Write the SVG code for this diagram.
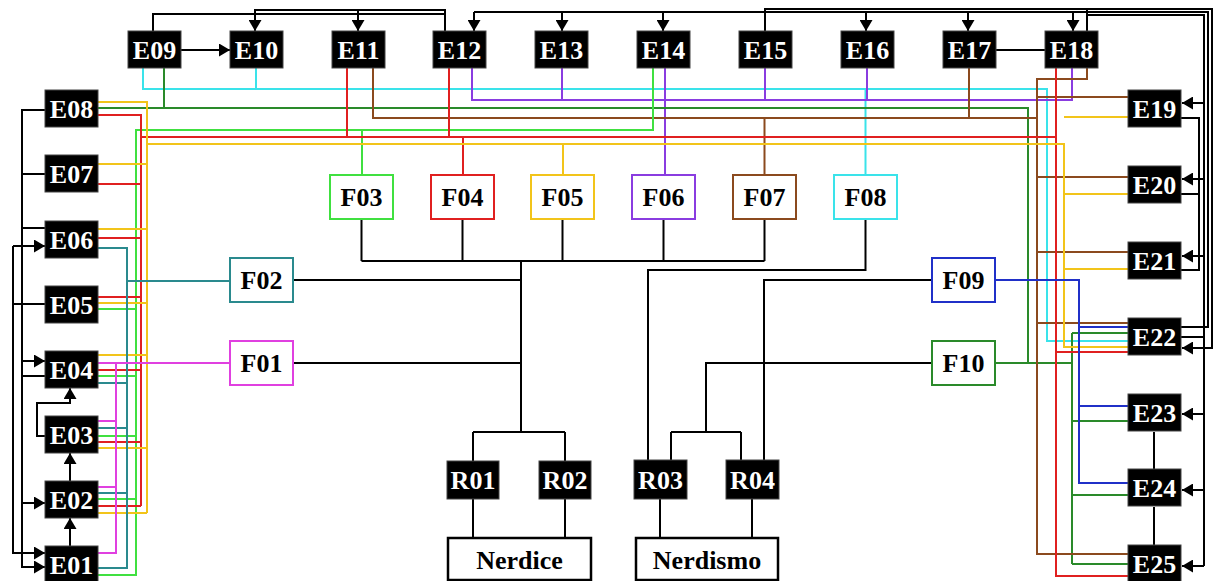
<svg xmlns="http://www.w3.org/2000/svg" width="1214" height="581" viewBox="0 0 1214 581">
<style>
.eb{fill:#000;stroke:#444;stroke-width:1}
.et{fill:#fff;font-family:"Liberation Serif","Times New Roman",serif;font-weight:bold;font-size:26px;text-anchor:middle}
.ft{fill:#000;font-family:"Liberation Serif","Times New Roman",serif;font-weight:bold;font-size:26px;text-anchor:middle}
.fb{fill:#fff;stroke-width:2}
.k{fill:none;stroke:#000;stroke-width:2}
.c{fill:none;stroke-width:2}
</style>
<defs>
<marker id="ar" markerUnits="userSpaceOnUse" markerWidth="11" markerHeight="13" refX="11" refY="6.5" orient="auto"><path d="M0,0 L11,6.5 L0,13 z" fill="#000"/></marker>
</defs>
<g id="connectors">
<path class="c" stroke="#3ae3ea" d="M143,68V89H1047V341H1128M256,68V89M865.5,89V175"/>
<path class="c" stroke="#8a3ce0" d="M472,68V100H1072V68M562,68V100M665,68V175M765,68V100M867,68V100"/>
<path class="c" stroke="#2a8a2a" d="M97,108H1028V363M164,68V108M995,363H1072M1072,333V564M1072,333H1128M1072,421H1128M1072,495H1128M1072,564H1128"/>
<path class="c" stroke="#8b4a1e" d="M373,68V118H1037M969,68V118M764.5,118V175M1087,68V79H1037V554H1128M1037,97H1128M1037,177H1128M1037,252H1128M1037,323H1128"/>
<path class="c" stroke="#40e040" d="M97,575H136V130H653V68M362,130V175M97,309H136M97,376H136M97,436H136M97,499H136"/>
<path class="c" stroke="#e02020" d="M97,115H141V506M141,137H1056M347,68V137M449,68V137M463,137V175M1056,68V576H1128M1056,352H1128M97,184H141M97,238H141M97,297H141M97,370H141M97,442H141M97,506H141"/>
<path class="c" stroke="#f2c41a" d="M97,102H147V513M147,144H1064V347H1128M563,144V175M1064,117H1128M1064,194H1128M1064,269H1128M97,164H147M97,229H147M97,303H147M97,355H147M97,448H147M97,513H147"/>
<path class="c" stroke="#2a8a8e" d="M97,248H127V568H97M127,281H230M97,383H127M97,428H127M97,493H127"/>
<path class="c" stroke="#e040e0" d="M97,363H230M116,363V553H97M97,421H116M97,487H116"/>
<path class="c" stroke="#2030c8" d="M995,280H1079V483H1128M1079,327H1128M1079,406H1128"/>
<path class="k" d="M361.5,219V261M462.5,219V261M562.5,219V261M663.5,219V261M764.5,219V261M361.5,261H764.5M521,261V432M293,280H521M293,363H521M473,432H565M473,432V461M565,432V461"/>
<path class="k" d="M865.5,219V270H648V460M932,280H764V460M932,363H706V432M671,432H741M671,432V460M741,432V460"/>
<path class="k" d="M473,499V538M565,499V538M660,499V538M752,499V538"/>
<path class="k" d="M996,50H1045M153,31V14H445M445,31V10H255V20M358,10V20M474,12H1208V327H1181M474,12V20M562,12V20M663,12V20M866,12V20M968,12V20M1073,12V20M765,31V9H1212V348H1193M1087,31V9M1087,15H1204V566M1204,103H1193M1204,179H1193M1204,256H1193M1204,414H1193M1204,490H1193M1204,566H1193M1181,337H1204M1181,118H1199V270H1181M1199,194H1181M1154,432V469M1154,507V545"/>
<path class="k" marker-end="url(#ar)" d="M180,50H230"/>
<path class="k" marker-end="url(#ar)" d="M255,19V31"/>
<path class="k" marker-end="url(#ar)" d="M358,19V31"/>
<path class="k" marker-end="url(#ar)" d="M474,19V31"/>
<path class="k" marker-end="url(#ar)" d="M562,19V31"/>
<path class="k" marker-end="url(#ar)" d="M663,19V31"/>
<path class="k" marker-end="url(#ar)" d="M866,19V31"/>
<path class="k" marker-end="url(#ar)" d="M968,19V31"/>
<path class="k" marker-end="url(#ar)" d="M1073,19V31"/>
<path class="k" marker-end="url(#ar)" d="M1194,103H1182"/>
<path class="k" marker-end="url(#ar)" d="M1194,179H1182"/>
<path class="k" marker-end="url(#ar)" d="M1194,256H1182"/>
<path class="k" marker-end="url(#ar)" d="M1194,348H1182"/>
<path class="k" marker-end="url(#ar)" d="M1194,414H1182"/>
<path class="k" marker-end="url(#ar)" d="M1194,490H1182"/>
<path class="k" marker-end="url(#ar)" d="M1194,566H1182"/>
<path class="k" d="M45,110H22V567H34M22,174H45M22,228H45M22,361H34M22,376H45M22,503H34M13,246H34M13,246V553H34M13,304H45M45,436H37V403H70V398M70,481V463M70,546V528"/>
<path class="k" marker-end="url(#ar)" d="M33,567H45"/>
<path class="k" marker-end="url(#ar)" d="M33,361H45"/>
<path class="k" marker-end="url(#ar)" d="M33,503H45"/>
<path class="k" marker-end="url(#ar)" d="M33,246H45"/>
<path class="k" marker-end="url(#ar)" d="M33,553H45"/>
<path class="k" marker-end="url(#ar)" d="M70,400V388"/>
<path class="k" marker-end="url(#ar)" d="M70,465V453"/>
<path class="k" marker-end="url(#ar)" d="M70,530V518"/>
</g>
<g id="E09"><rect class="eb" x="128" y="31" width="53" height="37"/><text class="et" x="154.5" y="58.5">E09</text></g>
<g id="E10"><rect class="eb" x="230" y="31" width="53" height="37"/><text class="et" x="256.5" y="58.5">E10</text></g>
<g id="E11"><rect class="eb" x="332" y="31" width="53" height="37"/><text class="et" x="358.5" y="58.5">E11</text></g>
<g id="E12"><rect class="eb" x="433" y="31" width="53" height="37"/><text class="et" x="459.5" y="58.5">E12</text></g>
<g id="E13"><rect class="eb" x="535" y="31" width="53" height="37"/><text class="et" x="561.5" y="58.5">E13</text></g>
<g id="E14"><rect class="eb" x="637" y="31" width="53" height="37"/><text class="et" x="663.5" y="58.5">E14</text></g>
<g id="E15"><rect class="eb" x="739" y="31" width="53" height="37"/><text class="et" x="765.5" y="58.5">E15</text></g>
<g id="E16"><rect class="eb" x="841" y="31" width="53" height="37"/><text class="et" x="867.5" y="58.5">E16</text></g>
<g id="E17"><rect class="eb" x="943" y="31" width="53" height="37"/><text class="et" x="969.5" y="58.5">E17</text></g>
<g id="E18"><rect class="eb" x="1045" y="31" width="53" height="37"/><text class="et" x="1071.5" y="58.5">E18</text></g>
<g id="E08"><rect class="eb" x="45" y="90" width="53" height="37"/><text class="et" x="71.5" y="117.5">E08</text></g>
<g id="E07"><rect class="eb" x="45" y="155" width="53" height="37"/><text class="et" x="71.5" y="182.5">E07</text></g>
<g id="E06"><rect class="eb" x="45" y="221" width="53" height="37"/><text class="et" x="71.5" y="248.5">E06</text></g>
<g id="E05"><rect class="eb" x="45" y="286" width="53" height="37"/><text class="et" x="71.5" y="313.5">E05</text></g>
<g id="E04"><rect class="eb" x="45" y="351" width="53" height="37"/><text class="et" x="71.5" y="378.5">E04</text></g>
<g id="E03"><rect class="eb" x="45" y="416" width="53" height="37"/><text class="et" x="71.5" y="443.5">E03</text></g>
<g id="E02"><rect class="eb" x="45" y="481" width="53" height="37"/><text class="et" x="71.5" y="508.5">E02</text></g>
<g id="E01"><rect class="eb" x="45" y="546" width="53" height="37"/><text class="et" x="71.5" y="573.5">E01</text></g>
<g id="E19"><rect class="eb" x="1128" y="90" width="53" height="37"/><text class="et" x="1154.5" y="117.5">E19</text></g>
<g id="E20"><rect class="eb" x="1128" y="166" width="53" height="37"/><text class="et" x="1154.5" y="193.5">E20</text></g>
<g id="E21"><rect class="eb" x="1128" y="242" width="53" height="37"/><text class="et" x="1154.5" y="269.5">E21</text></g>
<g id="E22"><rect class="eb" x="1128" y="318" width="53" height="37"/><text class="et" x="1154.5" y="345.5">E22</text></g>
<g id="E23"><rect class="eb" x="1128" y="394" width="53" height="37"/><text class="et" x="1154.5" y="421.5">E23</text></g>
<g id="E24"><rect class="eb" x="1128" y="469" width="53" height="37"/><text class="et" x="1154.5" y="496.5">E24</text></g>
<g id="E25"><rect class="eb" x="1128" y="545" width="53" height="37"/><text class="et" x="1154.5" y="572.5">E25</text></g>
<g id="F03"><rect class="fb" stroke="#40e040" x="330" y="175" width="63" height="44"/><text class="ft" x="361.5" y="206">F03</text></g>
<g id="F04"><rect class="fb" stroke="#e02020" x="431" y="175" width="63" height="44"/><text class="ft" x="462.5" y="206">F04</text></g>
<g id="F05"><rect class="fb" stroke="#f2c41a" x="531" y="175" width="63" height="44"/><text class="ft" x="562.5" y="206">F05</text></g>
<g id="F06"><rect class="fb" stroke="#8a3ce0" x="632" y="175" width="63" height="44"/><text class="ft" x="663.5" y="206">F06</text></g>
<g id="F07"><rect class="fb" stroke="#8b4a1e" x="733" y="175" width="63" height="44"/><text class="ft" x="764.5" y="206">F07</text></g>
<g id="F08"><rect class="fb" stroke="#3ae3ea" x="834" y="175" width="63" height="44"/><text class="ft" x="865.5" y="206">F08</text></g>
<g id="F02"><rect class="fb" stroke="#2a8a8e" x="230" y="258" width="63" height="44"/><text class="ft" x="261.5" y="289">F02</text></g>
<g id="F01"><rect class="fb" stroke="#e040e0" x="230" y="341" width="63" height="44"/><text class="ft" x="261.5" y="372">F01</text></g>
<g id="F09"><rect class="fb" stroke="#2030c8" x="932" y="258" width="63" height="44"/><text class="ft" x="963.5" y="289">F09</text></g>
<g id="F10"><rect class="fb" stroke="#2a8a2a" x="932" y="341" width="63" height="44"/><text class="ft" x="963.5" y="372">F10</text></g>
<g id="R01"><rect class="eb" x="447" y="461" width="52" height="38"/><text class="et" x="473" y="489">R01</text></g>
<g id="R02"><rect class="eb" x="539" y="461" width="52" height="38"/><text class="et" x="565" y="489">R02</text></g>
<g id="R03"><rect class="eb" x="634" y="460" width="53" height="39"/><text class="et" x="660.5" y="489">R03</text></g>
<g id="R04"><rect class="eb" x="726" y="460" width="53" height="39"/><text class="et" x="752.5" y="489">R04</text></g>
<g id="Nerdice"><rect fill="#fff" stroke="#000" stroke-width="2.5" x="448" y="538" width="143" height="42"/><text class="ft" x="519.5" y="568.5">Nerdice</text></g>
<g id="Nerdismo"><rect fill="#fff" stroke="#000" stroke-width="2.5" x="636" y="538" width="142" height="42"/><text class="ft" x="707" y="568.5">Nerdismo</text></g>
</svg>
